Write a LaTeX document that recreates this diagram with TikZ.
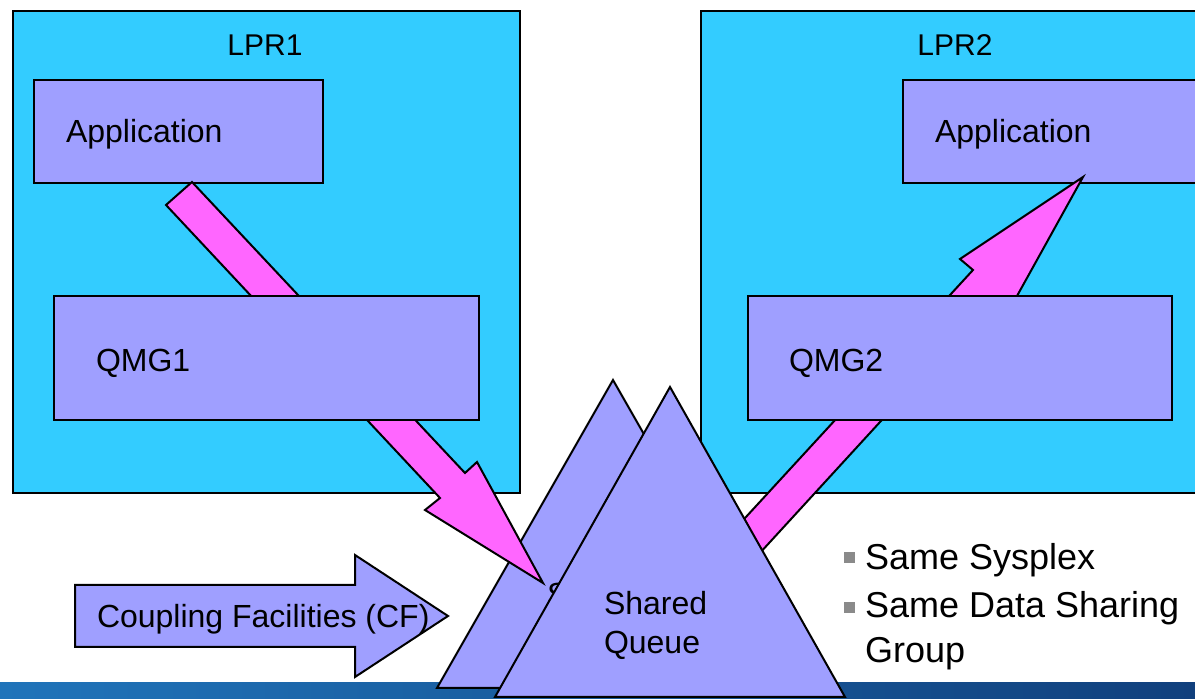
\documentclass[tikz,border=0pt]{standalone}
\usepackage{fontspec}
\setmainfont{Liberation Sans}
\usetikzlibrary{fit}
\definecolor{cyanbox}{HTML}{33CCFF}
\definecolor{lav}{HTML}{9F9FFF}
\definecolor{pinkar}{HTML}{FF66FF}
\definecolor{barL}{HTML}{2074BA}
\definecolor{barR}{HTML}{11407D}
\definecolor{bulletgray}{HTML}{8A8A8A}
\begin{document}
\begin{tikzpicture}[x=0.5pt,y=-0.5pt,line width=1pt,line join=miter,
  lpr/.style={draw=black,fill=cyanbox,inner sep=0pt,outer sep=0pt},
  box/.style={draw=black,fill=lav,inner sep=0pt,outer sep=0pt},
  pinkarrow/.style={draw=black,fill=pinkar},
  tri/.style={draw=black,fill=lav},
  txt/.style={font=\fontsize{16}{19.5}\selectfont,inner sep=0pt},
  lbl/.style={font=\fontsize{15}{18}\selectfont,inner sep=0pt},
  btxt/.style={font=\fontsize{18}{21}\selectfont,inner sep=0pt},
  bsq/.style={fill=bulletgray,draw=none,minimum size=5.5pt,inner sep=0pt}]
\useasboundingbox (0,0) rectangle (1195,699);
\clip (0,0) rectangle (1195,699);
% LPR boxes
\node[lpr,fit={(13,11) (520,493)}] (lpr1) {};
\node[lpr,fit={(701,11) (1215,493)}] (lpr2) {};
\node[lbl,anchor=base] (lpr1t) at (265,56) {LPR1};
\node[lbl,anchor=base] (lpr2t) at (955,56) {LPR2};
% bottom bar
\shade[left color=barL,right color=barR] (0,683) rectangle (1195,699);
% application boxes
\node[box,fit={(34,80) (323,183)}] (app1) {};
\node[box,fit={(903,80) (1215,183)}] (app2) {};
\node[txt,anchor=base west] (app1t) at (65,143) {Application};
\node[txt,anchor=base west] (app2t) at (934,143) {Application};
% back triangle (its label is hidden by the front one, only the S shows)
\draw[tri] (613,380) -- (437,688) -- (789,688) -- cycle;
\node[txt,anchor=base west] (sq1) at (546,606) {S};
% pink arrows
\draw[pinkarrow] (192,182) -- (465,473) -- (477,462) -- (543,583) -- (425,510) -- (440,498) -- (166,205) -- cycle;
\draw[pinkarrow] (700,567) -- (973,270) -- (960,259) -- (1083,177) -- (1012,305) -- (990,302) -- (726,590) -- cycle;
% queue managers
\node[box,fit={(54,296) (479,420)}] (qmg1) {};
\node[box,fit={(748,296) (1172,420)}] (qmg2) {};
\node[txt,anchor=base west] (qmg1t) at (95,372) {QMG1};
\node[txt,anchor=base west] (qmg2t) at (788,372) {QMG2};
% front triangle
\draw[tri] (670,387) -- (495,697) -- (845,697) -- cycle;
\node[txt,anchor=west,align=left] (sq2) at (603,625) {Shared\\Queue};
% CF arrow
\draw[tri] (75,585) -- (355,585) -- (355,555) -- (448,616) -- (355,677) -- (355,647) -- (75,647) -- cycle;
\node[txt,anchor=base west] (cf) at (96,628) {Coupling Facilities (CF)};
% bullets
\node[bsq] (b1) at (849.5,557.5) {};
\node[bsq] (b2) at (849.5,607.5) {};
\node[btxt,anchor=base west] (b1t) at (864,570) {Same Sysplex};
\node[btxt,anchor=base west] (b2t) at (864,618) {Same Data Sharing};
\node[btxt,anchor=base west] (b3t) at (864,663) {Group};
\end{tikzpicture}
\end{document}
